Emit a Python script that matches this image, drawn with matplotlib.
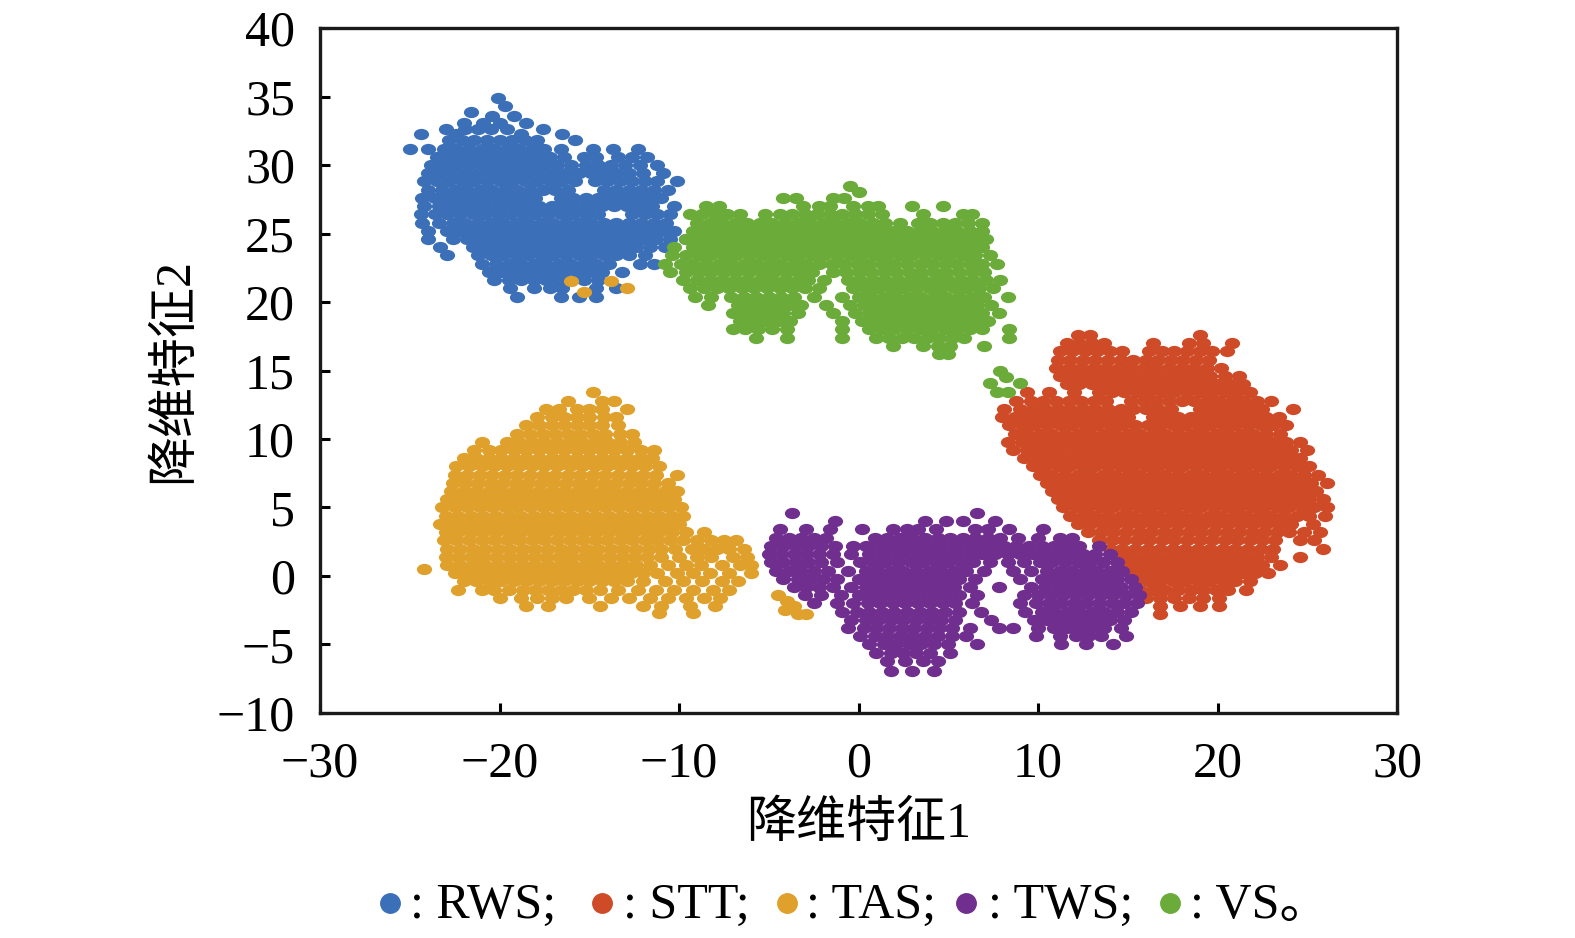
import numpy as np
import matplotlib
matplotlib.use("Agg")
import matplotlib.pyplot as plt
from matplotlib.path import Path
from matplotlib.transforms import Affine2D
from matplotlib.lines import Line2D

plt.rcParams["font.family"] = ["Liberation Serif", "Noto Sans CJK SC"]

# 类别与颜色
classes = ["RWS", "STT", "TAS", "TWS", "VS"]
colors = {"RWS": "#3b70b9", "STT": "#cf4a26", "TAS": "#dfa02c",
          "TWS": "#702e8e", "VS": "#6aab3a"}

# 降维后的点 (按行读取: y, [x...])
rws_rows = [
    (34.9, [-20.1]),
    (34.3, [-19.7]),
    (33.9, [-21.6]),
    (33.6, [-20.4, -19.2]),
    (33.1, [-22.0, -20.9, -20.0, -18.5]),
    (32.6, [-23.0, -21.9, -21.2, -20.5, -19.6, -17.6]),
    (32.3, [-24.4, -22.4, -18.8, -16.5]),
    (31.8, [-22.8, -22.1, -21.4, -20.7, -20.0, -19.3, -18.6, -17.9, -15.8]),
    (31.2, [-25.0, -24.0, -23.1, -22.4, -21.7, -21.0, -20.3, -19.6, -18.9, -18.2, -17.5, -16.6, -14.8, -13.7, -12.3]),
    (30.6, [-23.5, -22.8, -22.1, -21.4, -20.7, -20.0, -19.3, -18.6, -17.9, -17.2, -16.4, -15.3, -14.6, -13.4, -12.6, -11.8]),
    (30.0, [-23.8, -23.1, -22.4, -21.7, -21.0, -20.3, -19.6, -18.9, -18.2, -17.5, -16.8, -16.0, -15.2, -14.5, -13.8, -13.0, -12.2, -11.2]),
    (29.4, [-24.0, -23.3, -22.6, -21.9, -21.2, -20.5, -19.8, -19.1, -18.4, -17.7, -17.0, -16.3, -15.6, -14.9, -14.2, -13.5, -12.8, -12.0, -10.9]),
    (28.8, [-24.2, -23.5, -22.8, -22.1, -21.4, -20.7, -20.0, -19.3, -18.6, -17.9, -17.2, -16.5, -15.8, -14.7, -14.0, -13.3, -12.6, -11.9, -11.2, -10.1]),
    (28.2, [-24.0, -23.2, -22.5, -21.8, -21.1, -20.4, -19.7, -19.0, -18.3, -17.6, -16.9, -16.2, -14.2, -13.5, -12.8, -12.1, -11.4, -10.6]),
    (27.6, [-24.3, -23.6, -22.9, -22.2, -21.5, -20.8, -20.1, -19.4, -18.7, -18.0, -16.6, -15.9, -15.2, -14.5, -13.8, -13.1, -12.4, -11.7, -11.0]),
    (27.0, [-24.2, -23.4, -22.7, -22.0, -21.3, -20.6, -19.9, -19.2, -18.5, -17.8, -17.1, -16.4, -15.7, -15.0, -14.3, -13.6, -12.9, -12.2, -11.5, -10.3]),
    (26.4, [-24.4, -23.6, -22.9, -22.2, -21.5, -20.8, -20.1, -19.4, -18.7, -18.0, -17.3, -16.6, -15.9, -15.2, -14.5, -12.6, -11.9, -11.2, -10.5]),
    (25.8, [-24.3, -23.4, -22.6, -21.9, -21.2, -20.5, -19.8, -19.1, -18.4, -17.7, -17.0, -16.3, -15.6, -14.9, -14.2, -13.5, -12.8, -12.1, -11.4, -10.7]),
    (25.2, [-24.0, -22.9, -22.2, -21.5, -20.8, -20.1, -19.4, -18.7, -18.0, -17.3, -16.6, -15.9, -15.2, -14.5, -13.8, -13.1, -12.4, -11.7, -11.0, -10.3]),
    (24.6, [-24.0, -22.6, -21.8, -21.1, -20.4, -19.7, -19.0, -18.3, -17.6, -16.9, -16.2, -15.5, -14.8, -14.1, -13.4, -12.7, -12.0, -11.3, -10.5, -9.6]),
    (24.0, [-23.3, -21.5, -20.8, -20.1, -19.4, -18.7, -18.0, -17.3, -16.6, -15.9, -15.2, -14.5, -13.8, -13.1, -12.4, -11.6, -10.8]),
    (23.4, [-22.9, -21.2, -20.5, -19.8, -19.1, -18.4, -17.7, -17.0, -16.3, -15.6, -14.9, -14.2, -13.5, -12.8, -11.9]),
    (22.8, [-21.0, -20.2, -19.5, -18.8, -18.1, -17.4, -16.7, -16.0, -15.3, -14.6, -13.9, -12.2, -11.4]),
    (22.2, [-20.6, -19.9, -19.2, -18.5, -17.8, -17.1, -16.4, -15.7, -15.0, -14.3, -13.2]),
    (21.6, [-20.3, -19.5, -18.8, -18.1, -17.4, -16.7, -15.3, -14.5]),
    (21.0, [-19.4, -18.1, -17.2, -16.5, -14.6, -13.5]),
    (20.4, [-19.0, -16.6, -15.6, -14.6]),
]

stt_rows = [
    (17.6, [12.2, 12.9, 19.0]),
    (17.0, [11.6, 12.3, 13.0, 13.7, 16.4, 18.4, 19.2, 20.8]),
    (16.4, [11.2, 11.9, 12.6, 13.3, 14.0, 14.7, 16.2, 16.9, 17.6, 18.3, 19.0, 19.7, 20.5]),
    (15.8, [11.1, 11.8, 12.5, 13.2, 13.9, 14.6, 15.3, 16.0, 16.7, 17.4, 18.1, 18.8, 19.5]),
    (15.2, [11.0, 11.7, 12.4, 13.1, 13.8, 14.5, 15.2, 15.9, 16.6, 17.3, 18.0, 18.7, 19.4, 20.2]),
    (14.6, [11.2, 11.9, 12.6, 13.3, 14.0, 14.7, 15.4, 16.1, 16.8, 17.5, 18.2, 18.9, 19.6, 20.4, 21.2]),
    (14.0, [11.6, 12.3, 13.0, 13.7, 14.4, 15.1, 15.8, 16.5, 17.2, 17.9, 18.6, 19.3, 20.0, 20.7, 21.4]),
    (13.4, [9.4, 10.6, 12.0, 13.4, 14.1, 14.8, 15.5, 16.2, 16.9, 17.6, 18.3, 19.0, 19.7, 20.4, 21.1, 21.8]),
    (12.8, [8.8, 9.6, 10.3, 11.0, 11.7, 12.4, 13.1, 13.8, 15.2, 15.9, 16.6, 17.3, 18.0, 18.7, 19.4, 20.1, 20.8, 21.5, 22.2, 23.0]),
    (12.2, [8.1, 9.0, 9.7, 10.4, 11.1, 11.8, 12.5, 13.2, 13.9, 14.6, 15.3, 16.0, 16.7, 17.4, 19.0, 19.7, 20.4, 21.1, 21.8, 22.5, 24.2]),
    (11.6, [8.0, 8.7, 9.4, 10.1, 10.8, 11.5, 12.2, 12.9, 13.6, 14.3, 15.0, 16.4, 17.1, 17.8, 18.5, 19.2, 19.9, 20.6, 21.3, 22.0, 22.7, 23.4]),
    (11.0, [8.4, 9.1, 9.8, 10.5, 11.2, 11.9, 12.6, 13.3, 14.0, 14.7, 15.4, 16.1, 16.8, 17.5, 18.2, 18.9, 19.6, 20.3, 21.0, 21.7, 22.4, 23.1, 23.8]),
    (10.4, [8.7, 9.4, 10.1, 10.8, 11.5, 12.2, 12.9, 13.6, 14.3, 15.0, 15.7, 16.4, 17.1, 17.8, 18.5, 19.2, 19.9, 20.6, 21.3, 22.0, 22.7, 23.5]),
    (9.8, [8.3, 9.1, 9.8, 10.5, 11.2, 11.9, 12.6, 13.3, 14.0, 14.7, 15.4, 16.1, 16.8, 17.5, 18.2, 18.9, 19.6, 20.3, 21.0, 21.7, 22.4, 23.1, 23.8, 24.6]),
    (9.2, [8.6, 9.4, 10.1, 10.8, 11.5, 12.2, 12.9, 13.6, 14.3, 15.0, 15.7, 16.4, 17.1, 17.8, 18.5, 19.2, 19.9, 20.6, 21.3, 22.0, 22.7, 23.4, 24.1, 25.0]),
    (8.6, [9.2, 9.9, 10.6, 11.3, 12.0, 12.7, 13.4, 14.1, 14.8, 15.5, 16.2, 16.9, 17.6, 18.3, 19.0, 19.7, 20.4, 21.1, 21.8, 22.5, 23.2, 23.9, 24.6]),
    (8.0, [9.7, 10.4, 11.1, 11.8, 12.5, 13.2, 13.9, 14.6, 15.3, 16.0, 16.7, 17.4, 18.1, 18.8, 19.5, 20.2, 20.9, 21.6, 22.3, 23.0, 23.7, 24.4, 25.1]),
    (7.4, [10.1, 10.8, 11.5, 12.2, 12.9, 13.6, 14.3, 15.0, 15.7, 16.4, 17.1, 17.8, 18.5, 19.2, 19.9, 20.6, 21.3, 22.0, 22.7, 23.4, 24.1, 24.8, 25.6]),
    (6.8, [10.5, 11.2, 11.9, 12.6, 13.3, 14.0, 14.7, 15.4, 16.1, 16.8, 17.5, 18.2, 18.9, 19.6, 20.3, 21.0, 21.7, 22.4, 23.1, 23.8, 24.5, 25.2, 26.1]),
    (6.2, [10.8, 11.5, 12.2, 12.9, 13.6, 14.3, 15.0, 15.7, 16.4, 17.1, 17.8, 18.5, 19.2, 19.9, 20.6, 21.3, 22.0, 22.7, 23.4, 24.1, 24.8, 25.5]),
    (5.6, [11.1, 11.8, 12.5, 13.2, 13.9, 14.6, 15.3, 16.0, 16.7, 17.4, 18.1, 18.8, 19.5, 20.2, 20.9, 21.6, 22.3, 23.0, 23.7, 24.4, 25.1, 25.9]),
    (5.0, [11.4, 12.1, 12.8, 13.5, 14.2, 14.9, 15.6, 16.3, 17.0, 17.7, 18.4, 19.1, 19.8, 20.5, 21.2, 21.9, 22.6, 23.3, 24.0, 24.7, 25.4, 26.1]),
    (4.4, [11.8, 12.5, 13.2, 13.9, 14.6, 15.3, 16.0, 16.7, 17.4, 18.1, 18.8, 19.5, 20.2, 20.9, 21.6, 22.3, 23.0, 23.7, 24.4, 25.1, 26.0]),
    (3.8, [12.2, 12.9, 13.6, 14.3, 15.0, 15.7, 16.4, 17.1, 17.8, 18.5, 19.2, 19.9, 20.6, 21.3, 22.0, 22.7, 23.4, 24.1, 25.3]),
    (3.2, [12.8, 13.5, 14.2, 14.9, 15.6, 16.3, 17.0, 17.7, 18.4, 19.1, 19.8, 20.5, 21.2, 21.9, 22.6, 23.3, 24.0, 24.8, 25.7]),
    (2.6, [13.4, 14.1, 14.8, 15.5, 16.2, 16.9, 17.6, 18.3, 19.0, 19.7, 20.4, 21.1, 21.8, 22.5, 23.2, 24.6, 25.4]),
    (2.0, [14.0, 14.7, 15.4, 16.1, 16.8, 17.5, 18.2, 18.9, 19.6, 20.3, 21.0, 21.7, 22.4, 23.1, 25.9]),
    (1.4, [14.5, 15.2, 15.9, 16.6, 17.3, 18.0, 18.7, 19.4, 20.1, 20.8, 21.5, 22.2, 23.0, 24.6]),
    (0.8, [14.8, 15.5, 16.2, 16.9, 17.6, 18.3, 19.0, 19.7, 20.4, 21.1, 21.8, 22.5, 23.5]),
    (0.2, [15.1, 15.8, 16.5, 17.2, 17.9, 18.6, 19.3, 20.0, 20.7, 21.4, 22.1, 22.8]),
    (-0.4, [15.4, 16.1, 16.8, 17.5, 18.2, 18.9, 19.6, 20.3, 21.0, 21.8]),
    (-1.0, [15.7, 16.4, 17.1, 17.8, 18.5, 19.2, 19.9, 20.6, 21.6]),
    (-1.6, [16.0, 16.8, 17.6, 18.4, 19.2, 20.1]),
    (-2.2, [16.8, 17.9, 19.0, 20.1]),
    (-2.8, [16.8]),
]

tas_rows = [
    (21.5, [-16.0, -13.8]),
    (21.0, [-12.9]),
    (20.7, [-15.3]),
    (13.4, [-14.8]),
    (12.8, [-16.2, -14.3, -13.6]),
    (12.2, [-17.4, -16.7, -15.7, -15.0, -14.3, -12.9]),
    (11.6, [-17.9, -17.1, -16.4, -15.7, -15.0, -14.2, -13.5]),
    (11.0, [-18.5, -17.8, -17.1, -16.4, -15.7, -15.0, -14.3, -13.4]),
    (10.4, [-19.0, -18.3, -17.6, -16.9, -16.2, -15.5, -14.8, -14.1, -13.3, -12.6]),
    (9.8, [-21.0, -19.6, -18.9, -18.2, -17.5, -16.8, -16.1, -15.4, -14.7, -14.0, -13.3, -12.5]),
    (9.2, [-21.4, -20.6, -19.9, -19.2, -18.5, -17.8, -17.1, -16.4, -15.7, -15.0, -14.3, -13.6, -12.9, -12.1, -11.4]),
    (8.6, [-22.0, -21.3, -20.6, -19.9, -19.2, -18.5, -17.8, -17.1, -16.4, -15.7, -15.0, -14.3, -13.6, -12.9, -12.2, -11.5]),
    (8.0, [-22.4, -21.7, -21.0, -20.3, -19.6, -18.9, -18.2, -17.5, -16.8, -16.1, -15.4, -14.7, -14.0, -13.3, -12.6, -11.9, -11.1]),
    (7.4, [-22.5, -21.8, -21.1, -20.4, -19.7, -19.0, -18.3, -17.6, -16.9, -16.2, -15.5, -14.8, -14.1, -13.4, -12.7, -12.0, -11.3, -10.1]),
    (6.8, [-22.6, -21.9, -21.2, -20.5, -19.8, -19.1, -18.4, -17.7, -17.0, -16.3, -15.6, -14.9, -14.2, -13.5, -12.8, -12.1, -11.4, -10.6]),
    (6.2, [-22.7, -22.0, -21.3, -20.6, -19.9, -19.2, -18.5, -17.8, -17.1, -16.4, -15.7, -15.0, -14.3, -13.6, -12.9, -12.2, -11.5, -10.8, -10.1]),
    (5.6, [-22.9, -22.2, -21.5, -20.8, -20.1, -19.4, -18.7, -18.0, -17.3, -16.6, -15.9, -15.2, -14.5, -13.8, -13.1, -12.4, -11.7, -11.0, -10.3]),
    (5.0, [-23.2, -22.5, -21.8, -21.1, -20.4, -19.7, -19.0, -18.3, -17.6, -16.9, -16.2, -15.5, -14.8, -14.1, -13.4, -12.7, -12.0, -11.3, -10.6, -9.9]),
    (4.4, [-23.0, -22.3, -21.6, -20.9, -20.2, -19.5, -18.8, -18.1, -17.4, -16.7, -16.0, -15.3, -14.6, -13.9, -13.2, -12.5, -11.8, -11.1, -10.4, -9.8]),
    (3.8, [-23.3, -22.6, -21.9, -21.2, -20.5, -19.8, -19.1, -18.4, -17.7, -17.0, -16.3, -15.6, -14.9, -14.2, -13.5, -12.8, -12.1, -11.4, -10.7, -10.0]),
    (3.2, [-23.0, -22.3, -21.6, -20.9, -20.2, -19.5, -18.8, -18.1, -17.4, -16.7, -16.0, -15.3, -14.6, -13.9, -13.2, -12.5, -11.8, -11.1, -10.4, -9.6, -8.6]),
    (2.6, [-23.1, -22.4, -21.7, -21.0, -20.3, -19.6, -18.9, -18.2, -17.5, -16.8, -16.1, -15.4, -14.7, -14.0, -13.3, -12.6, -11.9, -11.2, -10.5, -9.8, -9.0, -8.2, -7.5, -6.8]),
    (2.0, [-22.9, -22.2, -21.5, -20.8, -20.1, -19.4, -18.7, -18.0, -17.3, -16.6, -15.9, -15.2, -14.5, -13.8, -13.1, -12.4, -11.7, -11.0, -10.2, -9.3, -8.6, -7.9, -7.2, -6.4]),
    (1.4, [-23.0, -22.3, -21.6, -20.9, -20.2, -19.5, -18.8, -18.1, -17.4, -16.7, -16.0, -15.3, -14.6, -13.9, -13.2, -12.5, -11.8, -11.0, -10.0, -9.0, -8.2, -7.0, -6.2]),
    (0.8, [-22.9, -22.2, -21.5, -20.8, -20.1, -19.4, -18.7, -18.0, -17.3, -16.6, -15.9, -15.2, -14.5, -13.8, -13.1, -12.4, -11.6, -10.6, -9.6, -8.8, -7.6, -6.6, -6.0]),
    (0.5, [-24.2]),
    (0.2, [-22.5, -21.8, -21.1, -20.4, -19.7, -19.0, -18.3, -17.6, -16.9, -16.2, -15.5, -14.8, -14.1, -13.4, -12.7, -12.0, -11.2, -10.1, -9.2, -8.3, -7.2, -6.0]),
    (-0.4, [-22.0, -21.3, -20.6, -19.9, -19.2, -18.5, -17.8, -17.1, -16.4, -15.7, -15.0, -14.3, -13.6, -12.9, -12.0, -10.8, -9.8, -8.7, -7.6, -6.7]),
    (-1.0, [-22.3, -21.0, -20.3, -19.5, -18.7, -18.0, -17.3, -16.6, -15.9, -15.2, -14.4, -13.4, -12.3, -11.3, -10.3, -9.2, -8.1, -7.2]),
    (-1.6, [-20.0, -18.8, -17.9, -17.1, -16.3, -15.0, -13.8, -12.8, -11.6, -10.6, -9.6, -8.6, -7.7]),
    (-2.2, [-18.5, -17.3, -14.4, -12.0, -11.0, -9.4, -8.0]),
    (-2.7, [-11.1, -9.2]),
    # 靠近 TWS 的一小团
    (-1.4, [-4.5]),
    (-1.8, [-4.0]),
    (-2.2, [-3.6]),
    (-2.5, [-4.1]),
    (-2.8, [-3.4, -2.9]),
]

tws_rows = [
    (4.6, [-3.7, 6.6]),
    (4.0, [-1.3, 3.7, 4.9, 5.8, 7.6]),
    (3.4, [-4.4, -2.9, -1.6, 0.2, 1.9, 2.7, 3.3, 4.3, 6.5, 7.2, 8.4, 10.3]),
    (2.8, [-4.6, -3.9, -3.2, -2.5, -1.8, 0.9, 1.6, 2.3, 3.0, 3.7, 4.4, 5.1, 5.8, 6.5, 7.2, 7.9, 8.9, 10.0, 11.2, 11.9]),
    (2.2, [-4.9, -4.2, -3.5, -2.8, -2.1, -1.3, -0.3, 0.4, 1.1, 1.8, 2.5, 3.2, 3.9, 4.6, 5.3, 6.0, 6.7, 7.4, 8.1, 8.8, 9.5, 10.2, 10.9, 11.6, 12.3, 13.4]),
    (1.6, [-5.0, -4.3, -3.6, -2.9, -2.2, -1.4, -0.4, 0.6, 1.3, 2.0, 2.7, 3.4, 4.1, 4.8, 5.5, 6.2, 6.9, 7.6, 8.3, 9.0, 9.7, 10.4, 11.1, 11.8, 12.5, 13.2, 14.0]),
    (1.0, [-4.9, -4.2, -3.5, -2.8, -2.1, -1.2, 0.1, 0.8, 1.5, 2.2, 2.9, 3.6, 4.3, 5.0, 5.7, 6.4, 7.3, 8.3, 9.2, 10.1, 10.8, 11.5, 12.2, 12.9, 13.6, 14.4]),
    (0.4, [-4.6, -3.9, -3.2, -2.5, -1.7, -0.6, 0.4, 1.1, 1.8, 2.5, 3.2, 3.9, 4.6, 5.3, 6.0, 7.0, 8.6, 9.6, 10.5, 11.2, 11.9, 12.6, 13.3, 14.0, 14.7]),
    (-0.2, [-4.2, -3.4, -2.7, -2.0, -1.2, 0.0, 0.7, 1.4, 2.1, 2.8, 3.5, 4.2, 4.9, 5.6, 6.5, 9.0, 10.2, 10.9, 11.6, 12.3, 13.0, 13.7, 14.4, 15.2]),
    (-0.8, [-3.6, -2.9, -2.2, -1.4, -0.4, 0.4, 1.1, 1.8, 2.5, 3.2, 3.9, 4.6, 5.3, 6.2, 7.8, 9.6, 10.4, 11.1, 11.8, 12.5, 13.2, 13.9, 14.6, 15.4]),
    (-1.4, [-3.0, -2.1, -1.0, 0.0, 0.7, 1.4, 2.1, 2.8, 3.5, 4.2, 4.9, 5.6, 6.6, 9.2, 10.0, 10.7, 11.4, 12.1, 12.8, 13.5, 14.2, 14.9, 15.6]),
    (-2.0, [-2.5, -1.2, -0.3, 0.5, 1.2, 1.9, 2.6, 3.3, 4.0, 4.7, 5.4, 6.3, 9.0, 9.9, 10.6, 11.3, 12.0, 12.7, 13.4, 14.1, 14.8, 15.5]),
    (-2.6, [-0.9, -0.1, 0.6, 1.3, 2.0, 2.7, 3.4, 4.1, 4.8, 5.6, 6.8, 9.3, 10.2, 10.9, 11.6, 12.3, 13.0, 13.7, 14.4, 15.2]),
    (-3.2, [-0.4, 0.4, 1.1, 1.8, 2.5, 3.2, 3.9, 4.6, 5.4, 7.4, 9.8, 10.5, 11.2, 11.9, 12.6, 13.3, 14.0, 14.8]),
    (-3.8, [-0.6, 0.3, 1.0, 1.7, 2.4, 3.1, 3.8, 4.5, 5.2, 6.2, 7.8, 8.6, 10.0, 10.9, 11.6, 12.3, 13.0, 13.7, 14.6]),
    (-4.4, [0.1, 0.9, 1.6, 2.3, 3.0, 3.7, 4.4, 5.2, 6.0, 9.9, 11.2, 12.1, 12.8, 13.5, 14.9]),
    (-5.0, [0.6, 1.4, 2.1, 2.8, 3.5, 4.2, 5.0, 6.6, 11.3, 12.7, 14.2]),
    (-5.6, [1.0, 1.8, 2.5, 3.2, 4.0, 5.1]),
    (-6.2, [1.6, 2.6, 3.6, 4.4]),
    (-6.9, [1.8, 3.0, 4.2]),
]

vs_rows = [
    (28.5, [-0.5]),
    (28.0, [0.0]),
    (27.6, [-4.2, -3.5, -1.4, -0.8]),
    (27.0, [-8.5, -7.8, -3.1, -2.2, -1.6, -0.3, 0.5, 1.1, 3.0, 4.7]),
    (26.4, [-9.4, -8.7, -8.0, -7.3, -6.6, -5.2, -4.4, -3.7, -3.0, -2.3, -1.6, -0.9, -0.2, 0.5, 1.3, 3.6, 5.8, 6.3]),
    (25.8, [-9.0, -8.3, -7.6, -6.9, -6.2, -5.5, -4.8, -4.1, -3.4, -2.7, -2.0, -1.3, -0.6, 0.1, 0.8, 1.5, 2.3, 3.3, 4.0, 4.7, 5.4, 6.1, 6.9]),
    (25.2, [-9.2, -8.5, -7.8, -7.1, -6.4, -5.7, -5.0, -4.3, -3.6, -2.9, -2.2, -1.5, -0.8, -0.1, 0.6, 1.3, 2.0, 2.7, 3.4, 4.1, 4.8, 5.5, 6.2, 6.9]),
    (24.6, [-9.6, -8.9, -8.2, -7.5, -6.8, -6.1, -5.4, -4.7, -4.0, -3.3, -2.6, -1.9, -1.2, -0.5, 0.2, 0.9, 1.6, 2.3, 3.0, 3.7, 4.4, 5.1, 5.8, 6.5, 7.1]),
    (24.0, [-10.3, -9.2, -8.5, -7.8, -7.1, -6.4, -5.7, -5.0, -4.3, -3.6, -2.9, -2.2, -1.5, -0.8, -0.1, 0.6, 1.3, 2.0, 2.7, 3.4, 4.1, 4.8, 5.5, 6.2, 6.9]),
    (23.4, [-10.4, -9.6, -8.9, -8.2, -7.5, -6.8, -6.1, -5.4, -4.7, -4.0, -3.3, -2.6, -1.9, -1.2, -0.5, 0.2, 0.9, 1.6, 2.3, 3.0, 3.7, 4.4, 5.1, 5.8, 6.5, 7.3]),
    (22.8, [-10.8, -9.9, -9.2, -8.5, -7.8, -7.1, -6.4, -5.7, -5.0, -4.3, -3.6, -2.9, -2.2, -1.5, -0.8, -0.1, 0.6, 1.3, 2.0, 2.7, 3.4, 4.1, 4.8, 5.5, 6.2, 6.9, 7.7]),
    (22.2, [-10.5, -9.6, -8.9, -8.2, -7.5, -6.8, -6.1, -5.4, -4.7, -4.0, -3.3, -2.6, -1.4, -0.7, 0.0, 0.7, 1.4, 2.1, 2.8, 3.5, 4.2, 4.9, 5.6, 6.3, 7.0]),
    (21.6, [-9.8, -9.0, -8.3, -7.6, -6.9, -6.2, -5.5, -4.8, -4.1, -3.4, -2.8, -1.9, -0.6, 0.1, 0.8, 1.5, 2.2, 2.9, 3.6, 4.3, 5.0, 5.7, 6.4, 7.1, 7.9]),
    (21.0, [-9.4, -8.6, -7.9, -7.2, -6.5, -5.8, -5.1, -4.4, -3.7, -3.0, -2.2, -0.3, 0.4, 1.1, 1.8, 2.5, 3.2, 3.9, 4.6, 5.3, 6.0, 6.7, 7.5]),
    (20.4, [-9.1, -8.2, -7.1, -6.4, -5.7, -5.0, -4.3, -3.6, -2.5, -0.9, 0.0, 0.7, 1.4, 2.1, 2.8, 3.5, 4.2, 4.9, 5.6, 6.3, 7.0, 8.3]),
    (19.8, [-8.4, -6.7, -6.0, -5.3, -4.6, -3.9, -3.2, -1.8, -0.5, 0.3, 1.0, 1.7, 2.4, 3.1, 3.8, 4.5, 5.2, 5.9, 6.6, 7.4]),
    (19.2, [-7.0, -6.3, -5.6, -4.9, -4.2, -3.4, -1.4, -0.2, 0.6, 1.3, 2.0, 2.7, 3.4, 4.1, 4.8, 5.5, 6.2, 6.9, 7.8]),
    (18.6, [-6.6, -5.9, -5.2, -4.5, -3.8, -0.9, 0.2, 0.9, 1.6, 2.3, 3.0, 3.7, 4.4, 5.1, 5.8, 6.5, 7.2]),
    (18.0, [-7.0, -6.3, -5.6, -4.8, -4.0, -0.9, 0.6, 1.3, 2.0, 2.7, 3.4, 4.1, 4.8, 5.5, 6.2, 6.9, 8.4]),
    (17.4, [-5.7, -4.0, -0.9, 1.0, 1.7, 2.4, 3.1, 3.8, 4.5, 5.2, 5.9, 8.4]),
    (16.8, [1.9, 3.6, 4.4, 5.1, 7.0]),
    (16.2, [4.5, 5.0]),
    (15.0, [7.9]),
    (14.5, [8.2]),
    (14.1, [7.3, 9.0]),
    (13.4, [7.7, 8.3]),
]


def unpack(rows):
    xs, ys = [], []
    for y, row in rows:
        xs += row
        ys += [y] * len(row)
    return np.array(xs), np.array(ys)


# 横向椭圆点
ellipse = Path.unit_circle().transformed(Affine2D().scale(1.0, 0.74))

fig = plt.figure(figsize=(15.75, 9.38), dpi=100)
ax = fig.add_axes([0.2032, 0.2399, 0.6838, 0.7302])

draw_order = [("RWS", rws_rows), ("STT", stt_rows), ("VS", vs_rows),
              ("TAS", tas_rows), ("TWS", tws_rows)]
for name, rows in draw_order:
    x, y = unpack(rows)
    ax.scatter(x, y, s=120, marker=ellipse, color=colors[name], linewidths=0)

ax.set_xlim(-30, 30)
ax.set_ylim(-10, 40)
ax.set_xticks(np.arange(-30, 31, 10))
ax.set_yticks(np.arange(-10, 41, 5))
ax.tick_params(direction="in", length=7, width=2.2, labelsize=36, pad=20)
ax.tick_params(axis="y", pad=18)
for sp in ax.spines.values():
    sp.set_linewidth(2.4)
    sp.set_color("#1a1a1a")

ax.set_xlabel("降维特征1", fontsize=36, labelpad=10)
ax.set_ylabel("降维特征2", fontsize=36)
ax.yaxis.set_label_coords(-0.113, 0.5)

# 图例 (底部一行)
legend_dot_x = [390, 602, 787, 966, 1170]
legend_text_x = [410, 623, 806, 988, 1190]
legend_labels = [": RWS;", ": STT;", ": TAS;", ": TWS;", ": VS。"]
for name, dx, tx, lab in zip(classes, legend_dot_x, legend_text_x, legend_labels):
    fig.add_artist(Line2D([dx / 1575], [1 - 903 / 938], marker="o", markersize=14,
                          color=colors[name], linestyle="none",
                          transform=fig.transFigure))
    fig.text(tx / 1575, 1 - 918 / 938, lab, fontsize=36, va="baseline", ha="left")

plt.savefig("out.png", dpi=100)
